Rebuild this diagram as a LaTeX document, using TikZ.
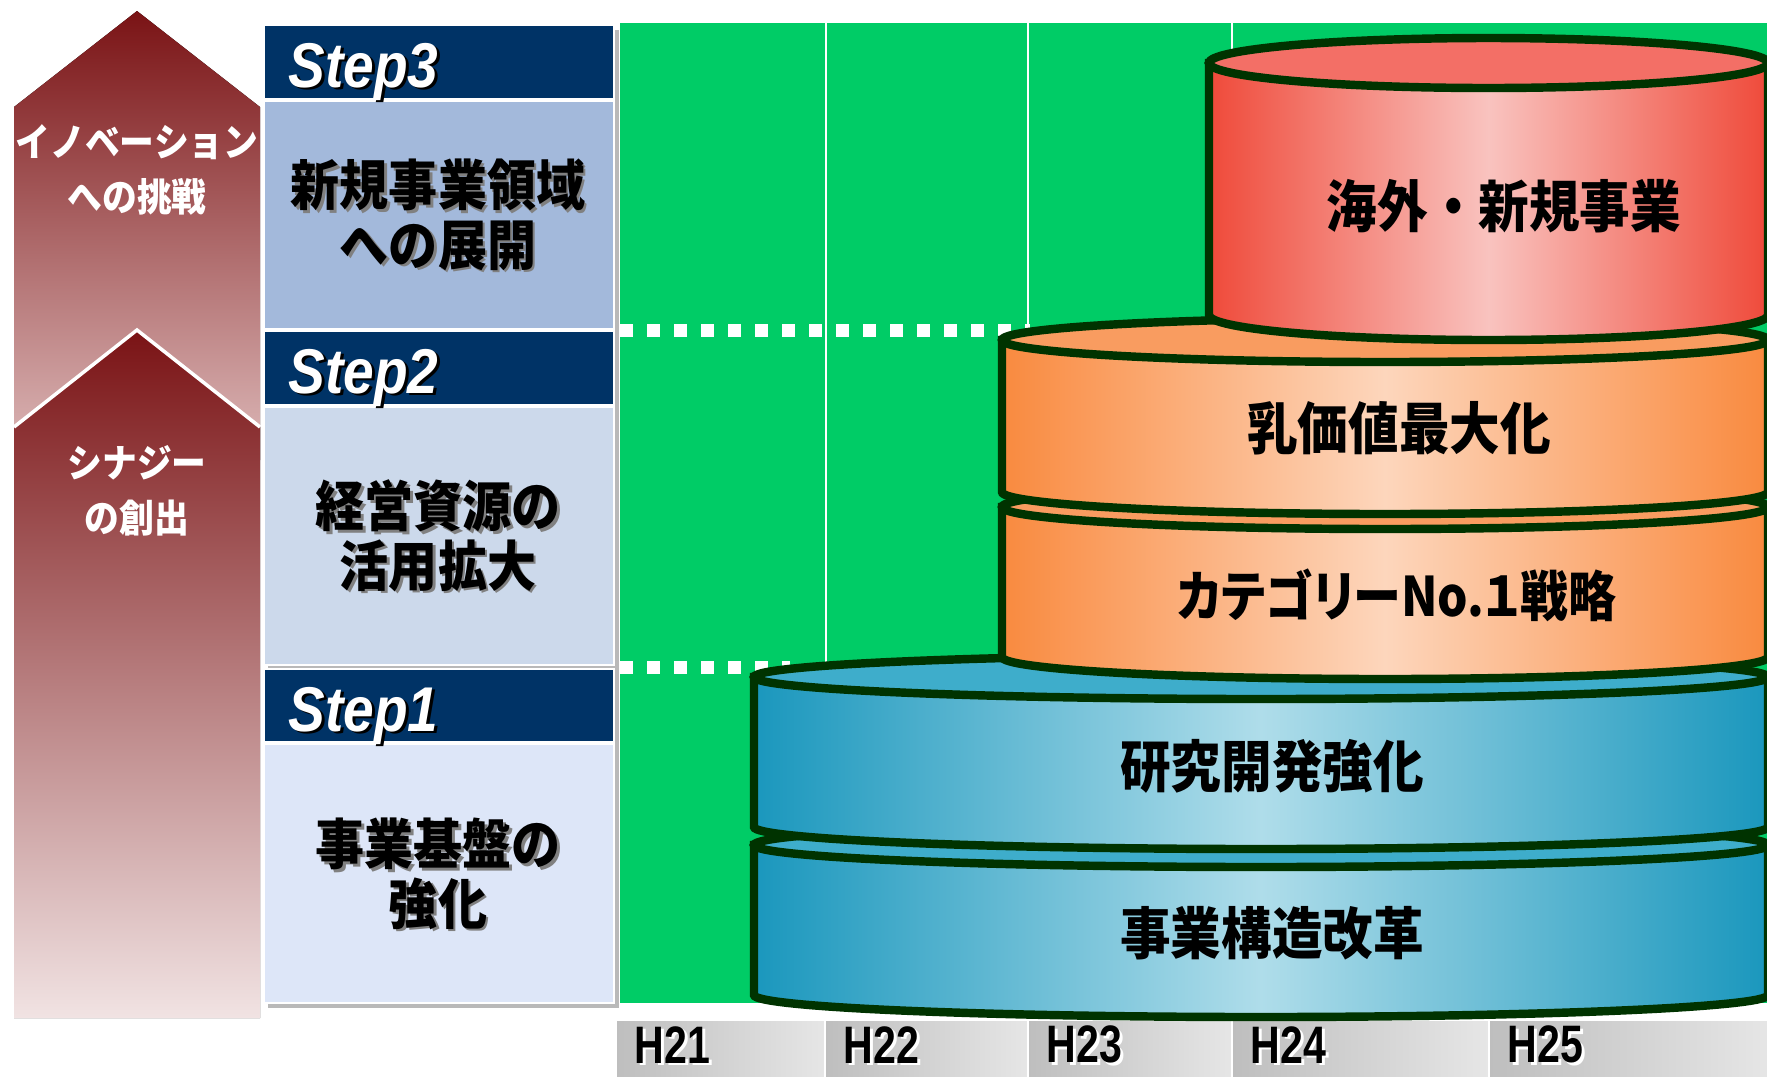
\documentclass[tikz,border=0pt]{standalone}
\usepackage{fontspec}
\newfontfamily\jpfont{Noto Sans CJK JP}[FakeStretch=0.9]
\newfontfamily\jpprop{Noto Sans CJK JP}[FakeStretch=0.88,RawFeature=+palt]
\newfontfamily\stepfont{Liberation Sans}[FakeStretch=0.87]
\newfontfamily\yearfont{Liberation Sans}[FakeStretch=0.78]

\definecolor{arrowdark}{HTML}{7A1315}
\definecolor{arrowfade}{HTML}{DDB9B9}
\definecolor{arrowpale}{HTML}{F1E3E3}
\definecolor{navy}{HTML}{003366}
\definecolor{bodythree}{HTML}{A3B9DB}
\definecolor{bodytwo}{HTML}{CCD9EB}
\definecolor{bodyone}{HTML}{DDE6F8}
\definecolor{meadow}{HTML}{00CC66}
\definecolor{yearleft}{HTML}{BEBEBE}
\definecolor{yearright}{HTML}{E6E6E6}
\definecolor{drumedge}{HTML}{003300}
\definecolor{seaedge}{HTML}{1A97BD}
\definecolor{seamid}{HTML}{AFDDEA}
\definecolor{seatop}{HTML}{3EADCB}
\definecolor{peachedge}{HTML}{F98A3F}
\definecolor{peachmid}{HTML}{FDD6BC}
\definecolor{peachtop}{HTML}{F99C60}
\definecolor{coraledge}{HTML}{EF4A3A}
\definecolor{coralmid}{HTML}{F9C3BF}
\definecolor{coraltop}{HTML}{F36F66}

% text with a small offset shadow: #1 shadow colour, #2 text
\newcommand{\shtext}[2]{\leavevmode\rlap{\kern0.8pt\raisebox{-0.8pt}{\textcolor{#1}{#2}}}#2}
% drum: #1 centre x, #2 x radius, #3 top y, #4 bottom y, #5 y radius, #6 colour prefix
\newcommand{\drum}[6]{%
  \draw[drumline, left color=#6edge, right color=#6edge, middle color=#6mid]
    (#1-#2,#3) -- (#1-#2,#4) arc[start angle=180, end angle=360, x radius=#2, y radius=#5]
    -- (#1+#2,#3) -- cycle;
  \draw[drumline, fill=#6top] (#1,#3) ellipse[x radius=#2, y radius=#5];
}

\begin{document}
\begin{tikzpicture}[
    drumline/.style={draw=drumedge, line width=2.4pt},
    headbox/.style={fill=navy, draw=white, line width=0.8pt},
    steplabel/.style={anchor=base west, inner sep=0pt, text=white, font=\stepfont\bfseries\itshape\fontsize{18}{20}\selectfont},
    bodylabel/.style={align=center, font=\jpfont\bfseries\fontsize{15.5}{17}\selectfont},
    drumlabel/.style={font=\jpfont\bfseries\fontsize{16}{18}\selectfont},
    yearbox/.style={left color=yearleft, right color=yearright, draw=white, line width=0.6pt},
    yearlabel/.style={anchor=west, inner sep=0pt, font=\yearfont\bfseries\fontsize{15}{17}\selectfont},
    arrowlabel/.style={align=center, text=white, font=\jpfont\bfseries\fontsize{11}{15.6}\selectfont},
    gridline/.style={white, line width=0.6pt},
    dotline/.style={white, line width=0.13cm, dash pattern=on 0.13cm off 0.14cm}
  ]
  \useasboundingbox (0,0) rectangle (17.67,-10.76);
  \clip (0,0) rectangle (17.67,-10.76);

  % rising arrows
  \fill[top color=arrowdark, bottom color=arrowfade] (1.37,-0.11) -- (2.60,-1.07) -- (2.60,-4.60) -- (0.14,-4.60) -- (0.14,-1.07) -- cycle;
  \fill[top color=arrowdark, bottom color=arrowpale] (1.37,-3.30) -- (2.60,-4.27) -- (2.60,-10.18) -- (0.14,-10.18) -- (0.14,-4.27) -- cycle;
  \draw[white, line width=1pt] (0.14,-4.27) -- (1.37,-3.30) -- (2.60,-4.27);
  \node[arrowlabel] (innovation) at (1.37,-1.70) {イノベーション\\への挑戦};
  \node[arrowlabel] (synergy) at (1.37,-4.91) {シナジー\\の創出};

  % step column
  \fill[gray!55] (2.68,-0.30) rectangle (6.19,-10.08);
  \filldraw[headbox] (2.64,-0.25) rectangle (6.14,-0.99);
  \filldraw[fill=bodythree, draw=white, line width=0.8pt] (2.64,-1.01) rectangle (6.14,-3.29);
  \filldraw[headbox] (2.64,-3.31) rectangle (6.14,-4.05);
  \filldraw[fill=bodytwo, draw=white, line width=0.8pt] (2.64,-4.07) rectangle (6.14,-6.65);
  \filldraw[headbox] (2.64,-6.69) rectangle (6.14,-7.42);
  \filldraw[fill=bodyone, draw=white, line width=0.8pt] (2.64,-7.44) rectangle (6.14,-10.03);
  \node[steplabel] (step3) at (2.88,-0.87) {\shtext{black}{Step3}};
  \node[steplabel] (step2) at (2.88,-3.93) {\shtext{black}{Step2}};
  \node[steplabel] (step1) at (2.88,-7.31) {\shtext{black}{Step1}};
  \node[bodylabel] (newfield) at (4.38,-2.16) {\shtext{gray}{新規事業領域}\\\shtext{gray}{への展開}};
  \node[bodylabel] (resources) at (4.38,-5.37) {\shtext{gray}{経営資源の}\\\shtext{gray}{活用拡大}};
  \node[bodylabel] (base) at (4.38,-8.75) {\shtext{gray}{事業基盤の}\\\shtext{gray}{強化}};

  % timeline field
  \fill[meadow] (6.20,-0.23) rectangle (17.67,-10.03);
  \foreach \x in {8.26,10.28,12.32}
    \draw[gridline] (\x,-0.23) -- (\x,-10.03);
  \draw[dotline] (6.20,-3.30) -- (10.30,-3.30);
  \draw[dotline] (6.20,-6.67) -- (7.90,-6.67);

  % years
  \foreach \a/\b/\t in {6.16/8.25/H21, 8.25/10.28/H22, 10.28/12.32/H23, 12.32/14.89/H24, 14.89/17.70/H25} {
    \draw[yearbox] (\a,-10.20) rectangle (\b,-10.80);
    \node[yearlabel] (\t) at (\a+0.18,-10.46) {\shtext{white}{\t}};
  }

  % drums, bottom up
  \drum{12.61}{5.07}{-8.45}{-9.95}{0.22}{sea}
  \drum{12.61}{5.07}{-6.77}{-8.27}{0.22}{sea}
  \drum{13.85}{3.83}{-5.07}{-6.57}{0.22}{peach}
  \drum{13.85}{3.83}{-3.40}{-4.92}{0.22}{peach}
  \drum{14.885}{2.795}{-0.63}{-3.15}{0.25}{coral}

  \node[drumlabel] (overseas) at (15.04,-2.06) {海外・新規事業};
  \node[drumlabel] (milkvalue) at (13.99,-4.28) {乳価値最大化};
  \node[drumlabel, font=\jpprop\bfseries\fontsize{15.5}{18}\selectfont] (category) at (13.97,-5.95) {カテゴリーNo.１戦略};
  \node[drumlabel] (research) at (12.72,-7.66) {研究開発強化};
  \node[drumlabel] (reform) at (12.72,-9.33) {事業構造改革};
\end{tikzpicture}
\end{document}
